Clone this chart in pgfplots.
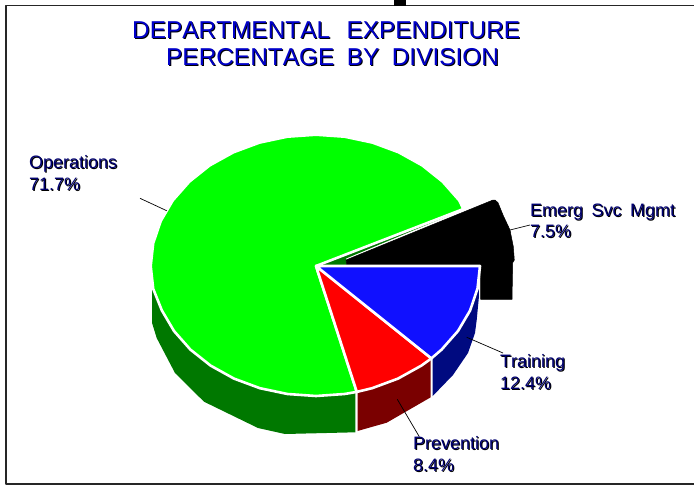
\documentclass[border=0pt]{standalone}
\usepackage{fontspec}
\setmainfont[Kerning=Off]{Liberation Sans}
\usepackage{pgfplots}
\pgfplotsset{compat=1.18}
\definecolor{grn}{HTML}{00FF00}
\definecolor{grnside}{HTML}{007800}
\definecolor{redtop}{HTML}{FF0000}
\definecolor{redside}{HTML}{7A0000}
\definecolor{blutop}{HTML}{1010FF}
\definecolor{bluside}{HTML}{000A80}
\definecolor{titleblue}{HTML}{0000C8}
\definecolor{labelblue}{HTML}{000070}
% text with a black drop shadow: x, y (baseline left), colour, size, text
\newcommand{\shadowtext}[5]{%
  \node[anchor=base west,inner sep=0pt,text=black] at (axis cs:#1+1,#2+1) {\fontsize{#4pt}{#4pt}\selectfont #5};
  \node[anchor=base west,inner sep=0pt,text=#3] at (axis cs:#1,#2) {\fontsize{#4pt}{#4pt}\selectfont #5};
}
\begin{document}
\begin{tikzpicture}
\begin{axis}[
  width=694pt, height=485pt, scale only axis,
  xmin=0, xmax=694, ymin=0, ymax=485,
  y dir=reverse,
  hide axis,
  line join=round,
]
% keep the whole page, hide axis drops the box otherwise
\path (axis cs:0,0) rectangle (axis cs:694,485);
% frame
\addplot[black!85, line width=1.6pt] coordinates {(694,5.5) (6,5.5) (6,484) (694,484)};
\addplot[black, fill=black, draw=none] coordinates {(394,0) (406,0) (406,6) (394,6)} --cycle;

% exploded slice
\addplot[fill=grnside, draw=none] coordinates {(318,265) (462,210) (346,258.5) (347,266)} --cycle;
\addplot[fill=black, draw=black, line width=0.5pt] coordinates {
  (346,260) (493,200) (495,200) (498,202.7) (503,215) (510,230) (513.3,246.7) (514.3,260)
  (512.7,262.7) (512,299.3) (480.7,299.3) (480.7,266) (347,266)} --cycle;

% sides
\addplot[fill=grnside, draw=none] coordinates {
  (152,290) (154.5,288.6) (161.9,310.5) (174,331) (190.4,349.6) (210.6,365.6) (234,378.6)
  (259.9,388.2) (287.5,394) (316,396) (344.5,394) (355.3,392)
  (355.3,432.3) (285,434) (258,428) (204,401.7) (175,373) (156.7,338) (152,322.7)} --cycle;
\addplot[fill=redside, draw=none] coordinates {
  (357.5,392) (372.1,388.2) (398,378.6) (421.4,365.6) (430.7,359)
  (430.7,397.3) (386.7,422.7) (357.5,431)} --cycle;
\addplot[fill=bluside, draw=none] coordinates {
  (432.7,358) (441.6,349.6) (458,331) (470.1,310.5) (477.5,288.6) (478.5,285)
  (479,296) (476.7,320) (475,333) (468,353) (453,375) (432.7,396)} --cycle;

% top faces
\addplot[fill=grn, draw=white, line width=2.6pt] coordinates {
  (316,266) (463.4,209) (459.2,200.4) (442.6,181.6) (422.3,165.4) (398.7,152.3) (372.5,142.6)
  (344.7,136.7) (316,134.7) (287.3,136.7) (259.5,142.6) (233.4,152.3) (209.7,165.4) (189.4,181.6)
  (172.8,200.4) (160.7,221.1) (153.2,243.2) (150.7,266) (153.2,288.8) (161.9,310.5) (174,331)
  (190.4,349.6) (210.6,365.6) (234,378.6) (259.9,388.2) (287.5,394) (316,396) (344.5,394)
  (356.8,391.9)} --cycle;
\addplot[fill=redtop, draw=white, line width=2.6pt] coordinates {
  (316,266) (356.8,391.9) (372.1,388.2) (398,378.6) (421.4,365.6) (431.4,358.4)} --cycle;
\addplot[fill=blutop, draw=white, line width=2.6pt] coordinates {
  (316,266) (431.4,358.4) (441.6,349.6) (458,331) (470.1,310.5) (477.5,288.6) (480,266)} --cycle;

% leader lines
\addplot[black, line width=0.7pt] coordinates {(140,198.3) (166.7,210.7)};
\addplot[black, line width=0.7pt] coordinates {(510,230) (530,225)};
\addplot[black, line width=0.7pt] coordinates {(466.7,337.3) (503,353)};
\addplot[black, line width=0.7pt] coordinates {(397.3,399.3) (419.3,436.7)};

% title
\shadowtext{132}{38}{titleblue}{24.4}{DEPARTMENTAL\hspace{16.5pt}EXPENDITURE}
\shadowtext{166}{65}{titleblue}{24.4}{PERCENTAGE\hspace{12.5pt}BY\hspace{12.5pt}DIVISION}

% labels
\shadowtext{29}{168}{labelblue}{18}{Operations}
\shadowtext{29}{190}{labelblue}{18}{71.7\%}
\shadowtext{530}{216}{labelblue}{18}{Emerg\hspace{8.5pt}Svc\hspace{8.5pt}Mgmt}
\shadowtext{530}{237}{labelblue}{18}{7.5\%}
\shadowtext{500}{367}{labelblue}{18}{Training}
\shadowtext{500}{389}{labelblue}{18}{12.4\%}
\shadowtext{413}{449}{labelblue}{18}{Prevention}
\shadowtext{413}{471}{labelblue}{18}{8.4\%}
\end{axis}
\end{tikzpicture}
\end{document}
